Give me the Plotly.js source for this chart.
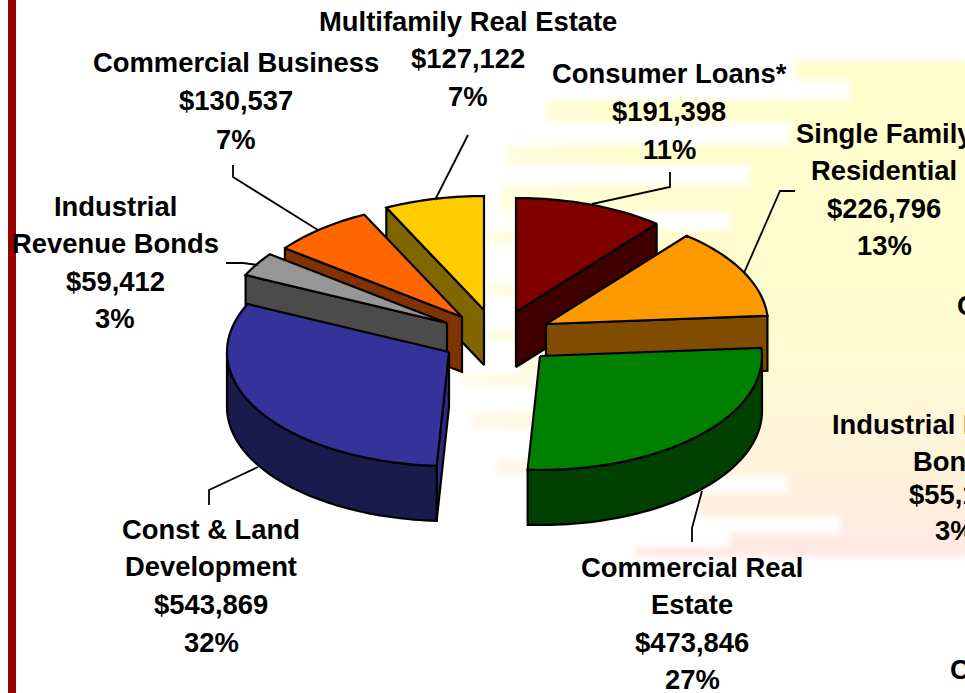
<!DOCTYPE html>
<html>
<head>
<meta charset="utf-8">
<script src="https://cdn.plot.ly/plotly-3.0.1.min.js"></script>
<style>html,body{margin:0;padding:0;background:#fff;overflow:hidden}#chart{width:965px;height:693px}</style>
</head>
<body>
<div id="chart"></div>
<script>
// ---- data ----
const categories = ["Consumer Loans*", "Single Family Residential", "Commercial Real Estate", "Const & Land Development", "Industrial Revenue Bonds", "Commercial Business", "Multifamily Real Estate"];
const values = [191398, 226796, 473846, 543869, 59412, 130537, 127122];
const percentLabels = ["11%", "13%", "27%", "32%", "3%", "7%", "7%"];
const labelLines = [
  ["Consumer Loans*"],
  ["Single Family", "Residential"],
  ["Commercial Real", "Estate"],
  ["Const & Land", "Development"],
  ["Industrial", "Revenue Bonds"],
  ["Commercial Business"],
  ["Multifamily Real Estate"]
];
const clippedLabels = ["C", "Industrial Revenue", "Bonds", "$55,1", "3%", "C"];

// ---- styles / layout ----
const topColors = ["#800000", "#FF9900", "#008000", "#333399", "#969696", "#FF6600", "#FFCC00"];
const wallColors = ["#400000", "#804D00", "#004000", "#1A1A4D", "#4B4B4B", "#803300", "#806600"];
const radiusX = 222, radiusY = 114, depth = 55;
const apexes = [[516,312],[546,324],[540,356],[449,352],[447,323],[462,317],[484,310]];
const drawOrder = [6, 0, 5, 1, 4, 2, 3];
const labelCentres = [[669,73,38],[884,133,37.5],[692,567,37.5],[211,529,37.7],[115,206,37.5],[236,62,38.5],[468,21,37.5]];
const leaders = [
  [[670,172],[670,187],[592,204]],
  [[795,191],[780,191],[744,273]],
  [[692,542],[692,528],[702,491]],
  [[209,505],[209,490],[258,467]],
  [[226,263],[243,263],[258,265]],
  [[233,165],[233,177],[318,230]],
  [[468,135],[435,200]]
];
const clippedPlacement = [[955,305,"left"],[830,424,"left"],[911,461,"left"],[907,494,"left"],[933,530,"left"],[948,669,"left"]];
const bgStripes = [[60,80,795,995],[80,100,850,995],[100,122,545,995],[122,145,790,995],[145,165,505,995],[165,185,750,995],[185,212,500,995],[212,230,730,995],[230,245,490,995],[245,283,600,995],[283,298,487,995],[298,330,600,995],[330,340,487,995],[340,373,520,995],[373,385,462,995],[385,412,600,995],[412,430,472,995],[430,460,560,995],[460,475,497,995],[475,493,787,995],[493,517,700,995],[517,533,840,995],[533,547,730,995],[547,557,635,995]];

const fontFamily = '"Liberation Sans", Arial, sans-serif';
const fontSize = 27.4;

function pt(c, deg, r) {
  const a = deg * Math.PI / 180;
  return [c[0] + radiusX * r * Math.sin(a), c[1] - radiusY * r * Math.cos(a)];
}
function arc(c, a0, a1) {
  const out = [];
  const n = Math.max(2, Math.ceil(Math.abs(a1 - a0) / 1.5));
  for (let i = 0; i <= n; i++) out.push(pt(c, a0 + (a1 - a0) * i / n, 1));
  return out;
}
function poly(points, fill) {
  const closed = points.concat([points[0]]);
  return {
    type: "scatter", mode: "lines", x: closed.map(p => p[0]), y: closed.map(p => p[1]),
    fill: "toself", fillcolor: fill, line: {color: "#000", width: 2.2, simplify: false},
    hoverinfo: "skip", showlegend: false
  };
}
function down(p) { return [p[0], p[1] + depth]; }

const total = values.reduce((a, b) => a + b, 0);
const starts = [];
let run = 0;
values.forEach(v => { starts.push(run / total * 360); run += v; });

const traces = [];
drawOrder.forEach(i => {
  const a0 = starts[i], a1 = a0 + values[i] / total * 360, c = apexes[i];
  if (Math.sin(a0 * Math.PI / 180) < 0) {
    const p = pt(c, a0, 1);
    traces.push(poly([c, p, down(p), down(c)], i === 3 ? "#2A2A80" : wallColors[i]));
  }
  if (Math.sin(a1 * Math.PI / 180) > 0.001) {
    const p = pt(c, a1, 1);
    traces.push(poly([c, p, down(p), down(c)], wallColors[i]));
  }
  const lo = Math.max(a0, 90), hi = Math.min(a1, 270);
  if (hi > lo) {
    const top = arc(c, lo, hi);
    traces.push(poly(top.concat(top.slice().reverse().map(down)), wallColors[i]));
  }
  traces.push(poly([c].concat(arc(c, a0, a1)), topColors[i]));
});

leaders.forEach(l => traces.push({
  type: "scatter", mode: "lines", x: l.map(p => p[0]), y: l.map(p => p[1]),
  line: {color: "#000", width: 1.8}, hoverinfo: "skip", showlegend: false
}));

const annotations = [];
function addText(text, x, y, anchor) {
  annotations.push({
    text: text, x: x, y: y, xref: "x", yref: "y", xanchor: anchor || "center", yanchor: "middle",
    showarrow: false, align: "center", font: {family: fontFamily, size: fontSize, color: "#000", weight: 700}
  });
}
categories.forEach((name, i) => {
  const [x, y, step] = labelCentres[i];
  const lines = labelLines[i].concat(["$" + values[i].toLocaleString("en-US"), percentLabels[i]]);
  lines.forEach((t, k) => addText("<b>" + t.replace("&", "&amp;") + "</b>", x, y + k * step));
});
clippedLabels.forEach((t, i) => addText("<b>" + t + "</b>", clippedPlacement[i][0], clippedPlacement[i][1], clippedPlacement[i][2]));

// soft painted backdrop, rasterised here and handed to Plotly as a layout image
function backdrop() {
  const cv = document.createElement("canvas");
  cv.width = 965; cv.height = 693;
  const ctx = cv.getContext("2d");
  const g = ctx.createLinearGradient(0, 50, 0, 560);
  g.addColorStop(0, "#FFFFCC");
  g.addColorStop(0.6, "#FFFBD2");
  g.addColorStop(0.82, "#FFF3DC");
  g.addColorStop(1, "#FFE8E4");
  ctx.filter = "blur(3px)";
  ctx.fillStyle = g;
  ctx.beginPath();
  bgStripes.forEach(s => ctx.rect(s[2], s[0], s[3] - s[2], s[1] - s[0]));
  ctx.fill();
  ctx.filter = "none";
  const fade = ctx.createLinearGradient(460, 0, 620, 0);
  fade.addColorStop(0, "rgba(0,0,0,0.5)");
  fade.addColorStop(1, "rgba(0,0,0,1)");
  ctx.globalCompositeOperation = "destination-in";
  ctx.fillStyle = fade;
  ctx.fillRect(0, 0, 965, 693);
  return cv.toDataURL("image/png");
}

const layout = {
  width: 965, height: 693, autosize: false,
  margin: {l: 0, r: 0, t: 0, b: 0, pad: 0},
  paper_bgcolor: "#ffffff", plot_bgcolor: "rgba(0,0,0,0)",
  xaxis: {range: [0, 965], visible: false, fixedrange: true},
  yaxis: {range: [693, 0], visible: false, fixedrange: true},
  showlegend: false,
  images: [{source: backdrop(), xref: "paper", yref: "paper", x: 0, y: 1, sizex: 1, sizey: 1, xanchor: "left", yanchor: "top", sizing: "stretch", layer: "below"}],
  shapes: [{type: "rect", xref: "x", yref: "y", x0: 8, x1: 16, y0: 0, y1: 693, fillcolor: "#990000", line: {width: 0}, layer: "below"}],
  annotations: annotations
};
Plotly.newPlot("chart", traces, layout, {displayModeBar: false, staticPlot: true});
</script>
</body>
</html>
